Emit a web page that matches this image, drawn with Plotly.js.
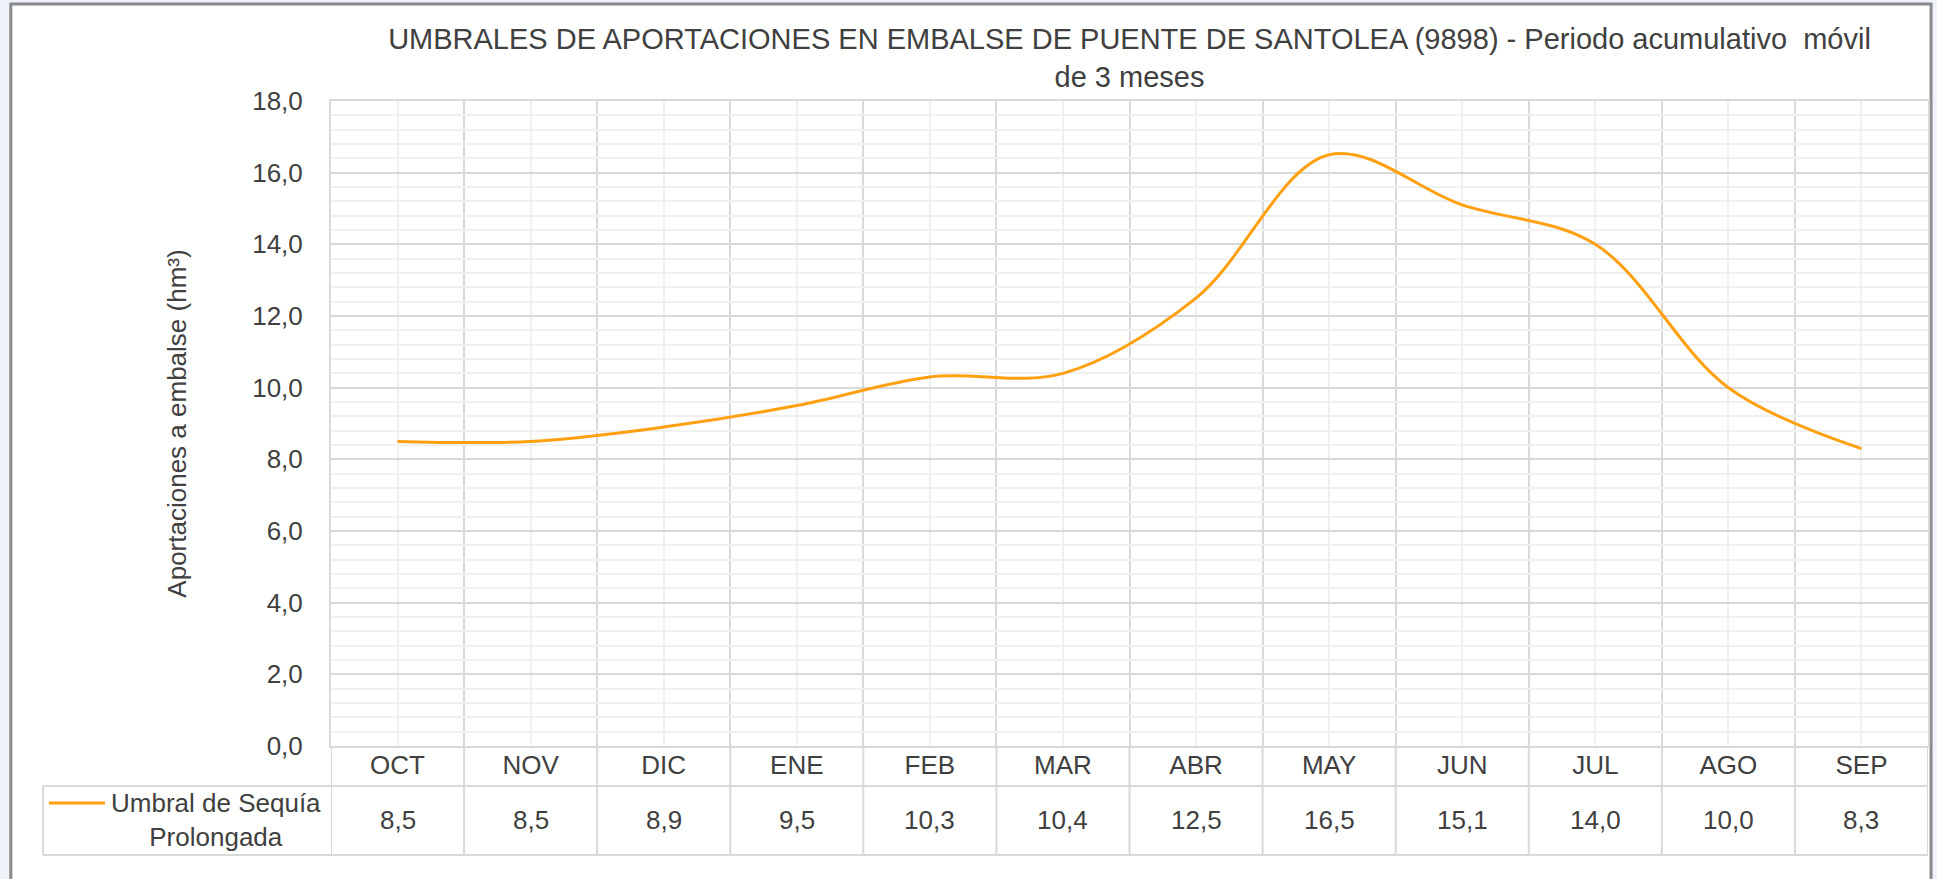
<!DOCTYPE html>
<html>
<head>
<meta charset="utf-8">
<script src="https://cdn.plot.ly/plotly-3.0.1.min.js"></script>
<style>
html,body{margin:0;padding:0;background:#ffffff;}
#chart{width:1937px;height:879px;}
</style>
</head>
<body>
<div id="chart"></div>
<script>
// ---- data ----
const categories = ['OCT','NOV','DIC','ENE','FEB','MAR','ABR','MAY','JUN','JUL','AGO','SEP'];
const umbralSequiaProlongada = [8.5, 8.5, 8.9, 9.5, 10.3, 10.4, 12.5, 16.5, 15.1, 14.0, 10.0, 8.3];
const seriesName = 'Umbral de Sequía<br>Prolongada';
const chartTitle = 'UMBRALES DE APORTACIONES EN EMBALSE DE PUENTE DE SANTOLEA (9898) - Periodo acumulativo \u00a0móvil<br>de 3 meses';
const yTitle = 'Aportaciones a embalse (hm³)';

// ---- styling ----
const FONT = 'Liberation Sans, Arial, sans-serif';
const TXT = '#404040';
const ORANGE = '#FFA010';
const MAJ = '#d9d9d9';
const MIN = '#f0f0f0';

const idx = categories.map((c, i) => i);
const bounds = categories.map((c, i) => i - 0.5).concat([categories.length - 0.5]);
const fmt = v => v.toFixed(1).replace('.', ',');

// table geometry (paper units)
const rowTop = 0;        // plot bottom
const rowMid = -0.062;   // line between categories row and values row
const rowBot = -0.169;   // table bottom
const tableLeft = -0.1803;

const shapes = [];
// outer frame
shapes.push({type:'rect', xref:'paper', yref:'paper', x0:-0.2005, x1:1.0019, y0:-0.30, y1:1.1504,
  fillcolor:'#ffffff', line:{color:'#8a8a8a', width:3}, layer:'below'});
// vertical boundaries continued through the table
bounds.forEach(b => shapes.push({type:'line', xref:'x', yref:'paper', x0:b, x1:b, y0:rowTop, y1:rowBot,
  line:{color:MAJ, width:2}, layer:'below'}));
// horizontal table lines
[rowMid, rowBot].forEach(y => shapes.push({type:'line', xref:'paper', yref:'paper', x0:tableLeft, x1:1, y0:y, y1:y,
  line:{color:MAJ, width:2}, layer:'below'}));
// table left border
shapes.push({type:'line', xref:'paper', yref:'paper', x0:tableLeft, x1:tableLeft, y0:rowMid, y1:rowBot,
  line:{color:MAJ, width:2}, layer:'below'});
// legend key
shapes.push({type:'line', xref:'paper', yref:'paper', x0:-0.1766, x1:-0.1415, y0:-0.0884, y1:-0.0884,
  line:{color:ORANGE, width:3}});

const annotations = umbralSequiaProlongada.map((v, i) => ({
  xref:'x', yref:'paper', x:i, y:-0.1147, text:fmt(v), showarrow:false,
  xanchor:'center', yanchor:'middle', font:{family:FONT, size:26, color:TXT}
}));
annotations.push({xref:'paper', yref:'paper', x:-0.072, y:-0.1145, text:seriesName, showarrow:false,
  align:'center', xanchor:'center', yanchor:'middle', font:{family:FONT, size:26, color:TXT}});

const trace = {
  type:'scatter', mode:'lines', x:idx, y:umbralSequiaProlongada, name:seriesName,
  line:{color:ORANGE, width:3, shape:'spline', smoothing:1},
  hoverinfo:'x+y'
};

const layout = {
  width:1937, height:879,
  margin:{l:331, r:9, t:101, b:133, pad:0},
  paper_bgcolor:'#eef2f9',
  plot_bgcolor:'rgba(0,0,0,0)',
  separators:',.',
  showlegend:false,
  font:{family:FONT, size:26, color:TXT},
  title:{text:chartTitle, font:{family:FONT, size:29, color:TXT},
    xref:'paper', x:0.5, xanchor:'center', yref:'container', y:0.944, yanchor:'top'},
  xaxis:{
    range:[-0.5, categories.length - 0.5], tickmode:'array', tickvals:idx, ticktext:categories,
    showgrid:true, gridcolor:MIN, gridwidth:2,
    minor:{tickmode:'array', tickvals:bounds, showgrid:true, gridcolor:MAJ, gridwidth:2, ticks:''},
    zeroline:false, showline:true, mirror:true, linecolor:MAJ, linewidth:2,
    ticks:'', ticklen:0, ticklabelstandoff:-5,
    tickfont:{family:FONT, size:26, color:TXT}, fixedrange:true
  },
  yaxis:{
    range:[0, 18], tick0:0, dtick:2, tickformat:'.1f',
    showgrid:true, gridcolor:MAJ, gridwidth:2,
    minor:{tick0:0, dtick:0.4, showgrid:true, gridcolor:MIN, gridwidth:2, ticks:''},
    zeroline:false, showline:true, mirror:true, linecolor:MAJ, linewidth:2,
    ticks:'outside', ticklen:21, tickcolor:'rgba(0,0,0,0)',
    tickfont:{family:FONT, size:26, color:TXT},
    title:{text:yTitle, font:{family:FONT, size:26, color:TXT}, standoff:58},
    fixedrange:true
  },
  shapes:shapes,
  annotations:annotations
};

Plotly.newPlot('chart', [trace], layout, {displayModeBar:false, staticPlot:true});
</script>
</body>
</html>
